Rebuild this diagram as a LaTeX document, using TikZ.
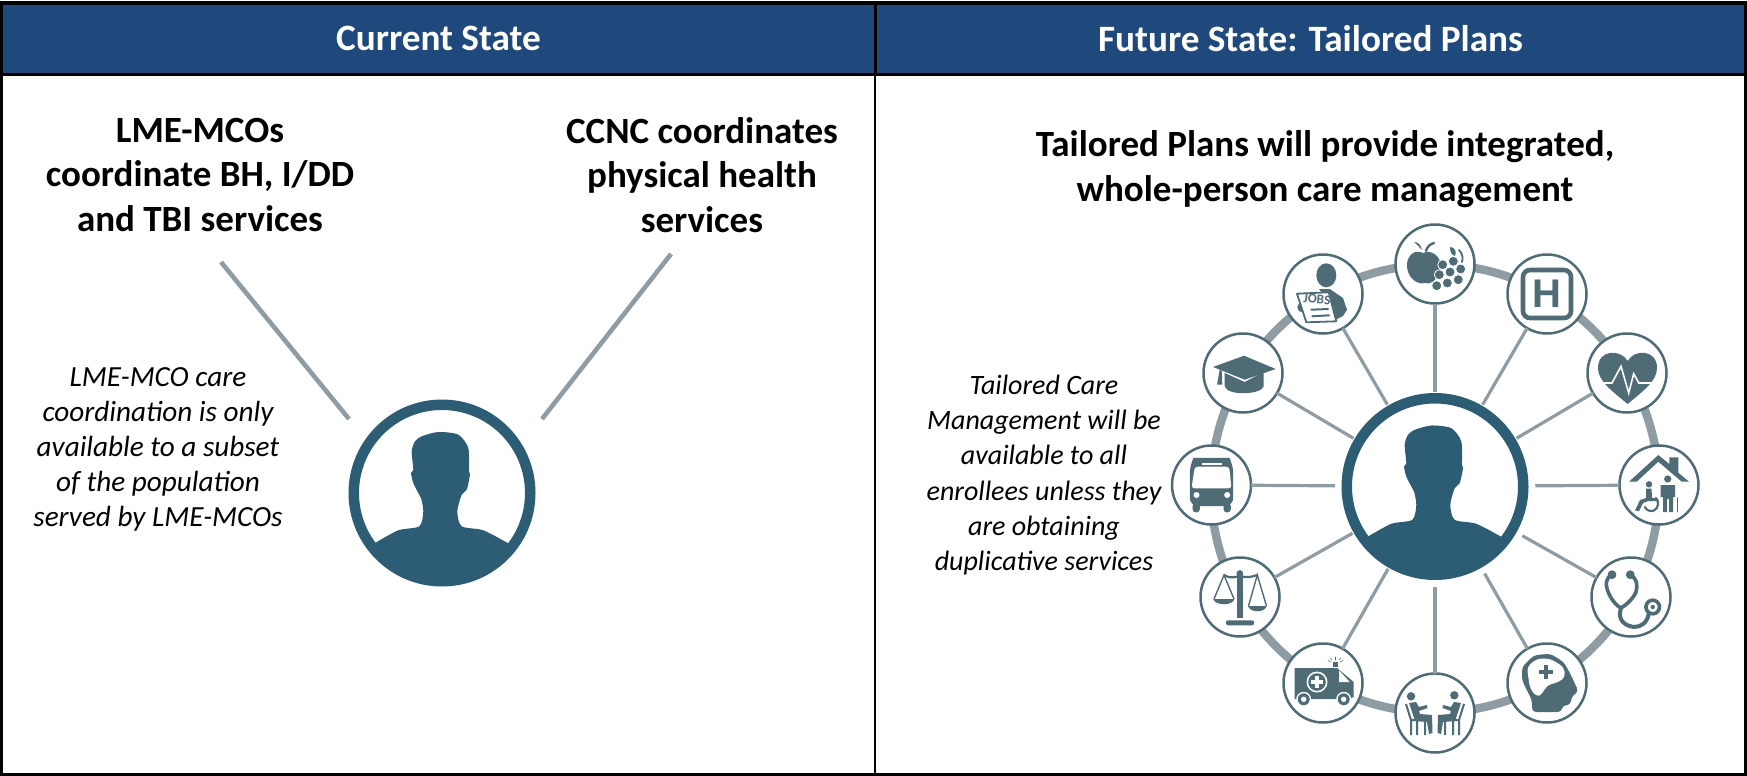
\documentclass[tikz,border=0pt]{standalone}
\usepackage{fontspec}
\setmainfont{Carlito}
\newfontfamily\hfont{Liberation Sans}
\definecolor{hdrblue}{HTML}{1F497D}
\definecolor{personc}{HTML}{2D5C75}
\definecolor{iconc}{HTML}{4F6B75}
\definecolor{linec}{HTML}{8F9CA3}
\tikzset{
  headbox/.style={draw=black,line width=1.5pt,fill=hdrblue,inner sep=0pt,outer sep=0pt,text=white,font=\bfseries\fontsize{18.6}{22}\selectfont},
  bodybox/.style={draw=black,line width=1.3pt,fill=white,inner sep=0pt,outer sep=0pt},
  bighead/.style={font=\bfseries\fontsize{18.5}{22.4}\selectfont,align=center,inner sep=0pt,text=black},
  noteit/.style={font=\itshape\fontsize{14.6}{17.5}\selectfont,align=center,inner sep=0pt,text=black},
  noteitb/.style={font=\itshape\fontsize{14.0}{17.6}\selectfont,align=center,inner sep=0pt,text=black},
  hubring/.style={circle,draw=personc,line width=5.25pt,fill=white,minimum size=88.25pt,inner sep=0pt,outer sep=0pt},
  sat/.style={circle,draw=iconc,line width=1.25pt,fill=white,minimum size=39.5pt,inner sep=0pt,outer sep=0pt},
  spoke/.style={draw=linec,line width=1.6pt},
  spokeA/.style={spoke,shorten >=3.25pt},
  spokeB/.style={spoke,shorten >=6pt},
  feeder/.style={draw=linec,line width=2.3pt},
  ic/.style={fill=iconc,draw=none},
  icl/.style={draw=iconc,line cap=round,line join=round},
}
\newcommand{\personfig}[2]{%
\begin{scope}[shift={(#1,#2)}]
\clip (0,0) circle (88);
\fill[personc,smooth] plot[smooth,tension=0.45] coordinates {(-70,52) (-67,50) (-43.7,37.3) (-22.7,33.3) (-18.7,18.3) (-21,5) (-23.7,0) (-28.7,-10) (-31,-20) (-28.7,-23.3) (-30.3,-41.7) (-27,-51.7) (-20.3,-56.7) (-3.7,-61) (16.3,-58.3) (26.3,-45) (27,-21.7) (28,-18.3) (24.7,-3.3) (19.7,1.7) (15.3,18.3) (19.7,33.3) (41.3,37.3) (67,50.7) (70,53)} -- (95,95) -- (-95,95) -- cycle;
\end{scope}}
\begin{document}
\begin{tikzpicture}[x=0.5pt,y=-0.5pt]
\useasboundingbox (0,0) rectangle (1747,776);
\fill[white] (0,0) rectangle (1747,776);
% panels
\draw[bodybox] (1.5,74) rectangle (875,774.5);
\draw[bodybox] (875,74) rectangle (1745.5,774.5);
\node[headbox,minimum width=436.75pt,minimum height=35.5pt] (hl) at (438.5,38.5) {\raisebox{-0.6pt}{Current State}};
\node[headbox,minimum width=435.25pt,minimum height=35.5pt] (hr) at (1310.5,38.5) {\raisebox{-0.6pt}{Future State: Tailored Plans}};
% left panel texts
\node[bighead] (t1) at (200,175) {LME-MCOs\\coordinate BH, I/DD\\and TBI services};
\node[bighead] (t2) at (702,175) {CCNC coordinates\\physical health\\services};
\node[noteit] (n1) at (158,449) {LME-MCO care\\coordination is only\\available to a subset\\of the population\\served by LME-MCOs};
% left person
\node[hubring] (p1) at (442,493) {};
\personfig{442}{493}
\coordinate (a1) at (221,262);
\coordinate (b1) at (349,419);
\coordinate (a2) at (671,254);
\coordinate (b2) at (542,419);
\draw[feeder] (a1) -- (b1);
\draw[feeder] (a2) -- (b2);
% right panel texts
\node[bighead] (t3) at (1325,169) {Tailored Plans will provide integrated,\\whole-person care management};
\node[noteitb] (n2) at (1044,475) {Tailored Care\\Management will be\\available to all\\enrollees unless they\\are obtaining\\duplicative services};
% ring and hub
\draw[linec,line width=4.2pt] (1435,488.5) circle (224);
\node[hubring] (hub) at (1435,486.5) {};
\personfig{1435}{486.5}
% satellites
\node[sat] (fruit) at (1435,264) {};
\node[sat] (hosp) at (1547,294) {};
\node[sat] (heart) at (1627,373) {};
\node[sat] (house) at (1659,485) {};
\node[sat] (steth) at (1631,597) {};
\node[sat] (brain) at (1547,683) {};
\node[sat] (meet) at (1435,713) {};
\node[sat] (amb) at (1323,683) {};
\node[sat] (law) at (1240,597) {};
\node[sat] (bus) at (1211.5,485) {};
\node[sat] (grad) at (1243,373) {};
\node[sat] (jobs) at (1323,294) {};
% spokes
\draw[spokeA] (fruit) -- (hub);
\draw[spokeA] (hosp) -- (hub);
\draw[spokeA] (heart) -- (hub);
\draw[spokeB] (house) -- (hub);
\draw[spokeB] (steth) -- (hub);
\draw[spokeB] (brain) -- (hub);
\draw[spokeB] (meet) -- (hub);
\draw[spokeA] (amb) -- (hub);
\draw[spokeA] (law) -- (hub);
\draw[spokeB] (bus) -- (hub);
\draw[spokeA] (grad) -- (hub);
\draw[spokeA] (jobs) -- (hub);
% jobs icon
\begin{scope}[shift={(jobs)}]
\fill[iconc] (3.3,-18.7) ellipse (10 and 12);
\fill[iconc] (-4,-5) -- (6.7,-5) -- (20,4) -- (24,15.7) -- (20,22) -- (12.7,25.7) -- (4,5) -- cycle;
\fill[iconc] (-20.7,13.3) circle (5);
\filldraw[fill=white,draw=iconc,line width=0.9pt,line join=round] (-26,-0.3) -- (5.7,-1.7) -- (13.3,27.3) -- (-16.7,28.3) -- cycle;
\node[inner sep=0pt,rotate=-5,text=iconc,font=\bfseries\fontsize{6.6}{7}\selectfont] (jobtxt) at (-6,5.5) {JOBS};
\draw[icl,line width=1pt] (-11.7,15.7) -- (5,15);
\draw[icl,line width=1pt] (-10.7,22.3) -- (6,21.3);
\end{scope}
% grad icon
\begin{scope}[shift={(grad)}]
\fill[iconc] (-30,-6) -- (1,-17.3) -- (32.7,-4) -- (1.7,6.7) -- cycle;
\fill[iconc] (-18.3,0) -- (1.7,9) -- (20.7,-1) -- (20.7,13.3) .. controls (18,22) and (-16,23) .. (-18.3,13.3) -- cycle;
\fill[iconc] (-23.3,-3.3) -- (-26,11.7) -- (-20.7,11.7) -- (-21.2,-2) -- cycle;
\end{scope}
% fruit icon
\begin{scope}[shift={(fruit)}]
\fill[iconc] (-12,-11) .. controls (-22,-16) and (-29,-6) .. (-28,3) .. controls (-27,14) and (-18,21) .. (-10,19) .. controls (-4,21) and (4,15) .. (6,3) .. controls (6,-8) and (-4,-15) .. (-12,-11) -- cycle;
\fill[iconc] (-21,-22) .. controls (-18,-20) and (-16,-17) .. (-13,-14) .. controls (-14,-18) and (-16,-22) .. (-21,-22) -- cycle;
\draw[icl,line width=1.2pt] (-9,-13) .. controls (-8,-17) and (-5,-20) .. (-1,-21);
\foreach \gx/\gy in {7.7/0.7,18.3/-2.7,15/8,25.7/5,4.3/10.7,12.3/19,23.3/15.7,1.7/21.7}
  \filldraw[fill=iconc,draw=white,line width=0.4pt] (\gx,\gy) circle (5);
\fill[iconc] (15,-17) .. controls (20,-17) and (22,-12) .. (20,-8) .. controls (16,-9) and (15,-13) .. (15,-17) -- cycle;
\draw[icl,line width=0.9pt] (24,-14) .. controls (28,-10) and (28,-5) .. (27,-2);
\end{scope}
% hospital icon
\begin{scope}[shift={(hosp)}]
\draw[draw=iconc,line width=2.3pt,rounded corners=3.5pt] (-24,-24) rectangle (24,24);
\node[inner sep=0pt,text=iconc,font=\hfont\bfseries\fontsize{20}{20}\selectfont] (hlet) at (0,0) {H};
\end{scope}
% heart icon
\begin{scope}[shift={(heart)}]
\fill[iconc] (0.7,-12) .. controls (-6,-24) and (-29,-24) .. (-29,-5) .. controls (-29,8) and (-15,18) .. (0.7,31) .. controls (16,18) and (30,8) .. (30,-5) .. controls (30,-24) and (7,-24) .. (0.7,-12) -- cycle;
\draw[draw=white,line width=0.8pt,line join=miter] (-32,10) -- (-15,10) -- (-6,-6.7) -- (1.7,20) -- (6.7,0.7) -- (11.7,10) -- (32,10);
\end{scope}
% house icon
\begin{scope}[shift={(house)}]
\fill[iconc] (-30,-3.3) -- (-0.7,-30) -- (10.3,-21) -- (10.3,-27.7) -- (19.3,-27.7) -- (19.3,-12.3) -- (30,-3.3) -- (22.7,-3.3) -- (-0.7,-23.3) -- (-22.3,-3.3) -- cycle;
\fill[iconc] (8.7,-6) circle (3.6);
\fill[iconc] (1.7,0) -- (16,0) -- (16,12) -- (14,12) -- (14,27) -- (10,27) -- (10,14) -- (8,14) -- (8,27) -- (4,27) -- (4,12) -- (1.7,12) -- cycle;
\draw[icl,line width=0.7pt] (18.5,13) -- (18.5,26.7);
\fill[iconc] (-10,-0.7) circle (3.2);
\fill[iconc] (-13,3.5) -- (-7.5,3.5) -- (-7,13) -- (-2,13) -- (-2,16) -- (-10.5,16) -- (-16,18) -- (-20,26) -- (-24,25.5) -- (-19,15) -- (-13,13) -- cycle;
\draw[icl,line width=1.1pt] (-3,13) .. controls (0,16) and (0,23) .. (-5,25.5) .. controls (-9,27) and (-13,25) .. (-14,22);
\end{scope}
% stethoscope icon
\begin{scope}[shift={(steth)}]
\fill[iconc] (-19,-22.3) circle (4.4);
\fill[iconc] (-0.7,-22.3) circle (4.4);
\draw[icl,line width=1.8pt] (-19,-22) .. controls (-26,-19) and (-26,-12) .. (-22,-3) .. controls (-18,5) and (-14,9) .. (-10,11) .. controls (-5,8) and (2,2) .. (5,-5) .. controls (7,-12) and (6,-19) .. (-1,-22);
\draw[icl,line width=2pt] (-10,11) .. controls (-13,20) and (-10,28) .. (2.7,30) .. controls (10,30) and (16,26) .. (17.7,17);
\draw[draw=iconc,line width=1.8pt] (21.7,10) circle (6.8);
\fill[iconc] (21.7,10) circle (2.2);
\end{scope}
% brain-head icon
\begin{scope}[shift={(brain)}]
\fill[iconc,rounded corners=2pt] (-15,29) -- (-15,17.3) -- (-25,-2.7) -- (-25,-16) -- (-13.3,-27.7) -- (3.3,-29.3) -- (16.7,-21) -- (23.3,-9.3) -- (31.7,9) -- (25,12.3) -- (23.3,22.3) -- (15,22.3) -- (15,29) -- cycle;
\fill[white,rounded corners=2pt] (-18.3,-2.7) -- (-20,-16) -- (-10,-24.3) -- (3.3,-24.3) -- (16.7,-16) -- (18.3,-6) -- (11.7,-1) -- (0,2.3) -- (-5,11) -- (-10,14) -- (-16.7,6) -- cycle;
\fill[iconc] (-3.2,-17.7) rectangle (1.2,-4.3);
\fill[iconc] (-7.7,-13.2) rectangle (5.7,-8.8);
\end{scope}
% meeting icon
\begin{scope}[shift={(meet)}]
\foreach \sg/\hx/\hy in {1/-24/-16.7,-1/-19.3/-17.7}{
\begin{scope}[xscale=\sg]
\fill[iconc] (\hx,\hy) circle (4.2);
\fill[iconc] (-26,-10) -- (-19,-11) -- (-16,-6) -- (-8,-8) -- (-7.5,-5) -- (-16,-2) -- (-15,1) -- (-3,2) -- (-2.5,20) -- (-6,21) -- (-8,9) -- (-20,8) -- cycle;
\draw[draw=iconc,line width=1pt] (-29,-9) -- (-24,7) -- (-24,22) (-24,7) -- (-10,7) -- (-10,22) (-18,7) -- (-18,22);
\end{scope}}
\end{scope}
% ambulance icon
\begin{scope}[shift={(amb)}]
\fill[iconc] (-28.3,-15) -- (14,-15) -- (30.7,-1) -- (30.7,14) -- (26,16) -- (-28.3,16) -- cycle;
\fill[white] (16,-12.7) -- (26.7,-1) -- (16,-1) -- cycle;
\fill[white] (-6,-1) circle (10.5);
\fill[iconc] (-6,-1) circle (8.8);
\fill[white] (-8,-7) rectangle (-4,5);
\fill[white] (-12,-3) rectangle (0,1);
\foreach \wx in {-19.3,20.7}{
\fill[white] (\wx,16.3) circle (7.5);
\fill[iconc] (\wx,16.3) circle (6);
\fill[white] (\wx,16.3) circle (2.7);}
\fill[iconc] (10,-21) rectangle (15,-16);
\draw[icl,line width=0.3pt] (12.5,-23) -- (12.5,-26) (8,-21) -- (5,-22.5) (17,-21) -- (20,-22.5) (9,-23) -- (7,-25) (16,-23) -- (18,-25);
\end{scope}
% scales icon
\begin{scope}[shift={(law)}]
\fill[iconc] (-3,-22) rectangle (2.7,21);
\fill[iconc] (-0.2,-23.5) circle (3.4);
\fill[iconc,rounded corners=1pt] (-14,23.3) rectangle (14,28.3);
\draw[draw=iconc,line width=1.1pt] (-16,-22) .. controls (-10,-18) and (-5,-20) .. (0,-21) .. controls (6,-19) and (12,-20) .. (17.3,-22);
\draw[draw=iconc,line width=0.7pt] (-26,2) -- (-16,-22) -- (-6,2) (8.5,9) -- (17.3,-22) -- (26.5,9);
\fill[iconc] (-26.7,2) -- (-5.7,2) .. controls (-7,9) and (-25,9) .. (-26.7,2) -- cycle;
\fill[iconc] (8,9) -- (26.7,9) .. controls (25,16) and (10,16) .. (8,9) -- cycle;
\end{scope}
% bus icon
\begin{scope}[shift={(bus)}]
\fill[iconc,rounded corners=4pt] (-21.7,21) -- (-21.7,-20) .. controls (-18,-27) and (18,-27) .. (21.7,-20) -- (21.7,21) -- cycle;
\fill[iconc,rounded corners=1.5pt] (-19,18) rectangle (-11.7,27.3);
\fill[iconc,rounded corners=1.5pt] (12,18) rectangle (19.3,27.3);
\fill[white,rounded corners=1.5pt] (-16.7,-18.3) -- (17.7,-18.3) -- (20,3.3) -- (-20,3.3) -- cycle;
\fill[white] (-10,-22.5) rectangle (10,-20);
\fill[white] (-15,10) circle (3);
\fill[white] (15.7,10) circle (3);
\end{scope}
\end{tikzpicture}
\end{document}
